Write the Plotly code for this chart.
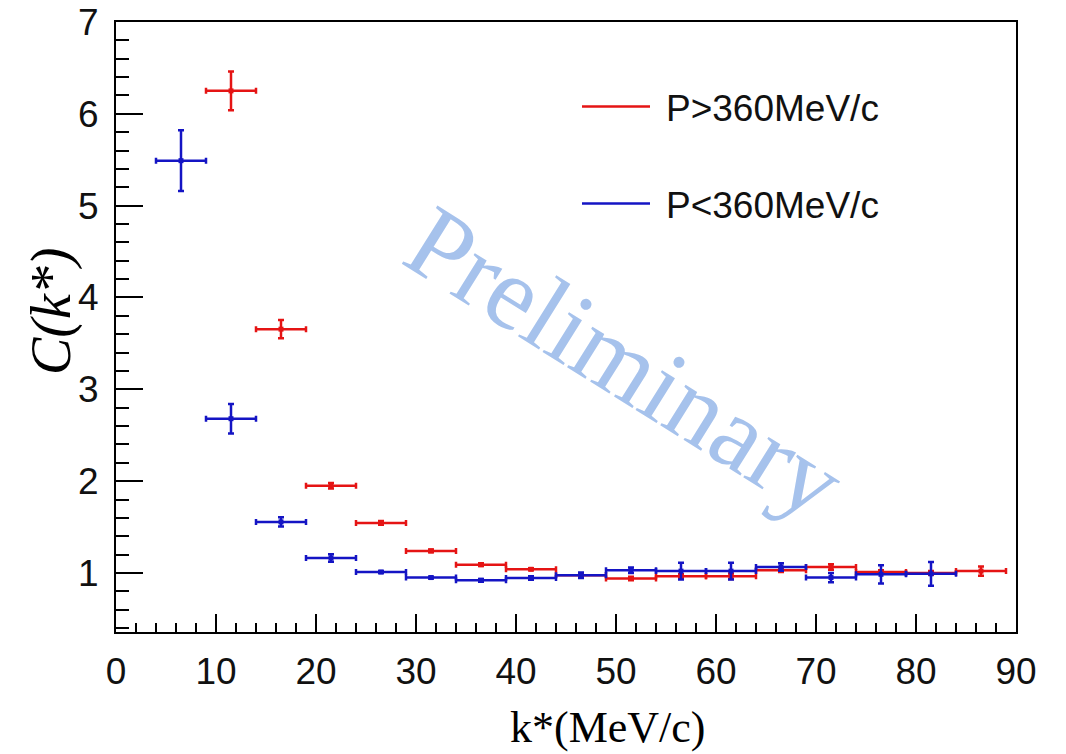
import plotly.graph_objects as go

# Bin centres (MeV/c); every bin is 5 MeV/c wide
k_high = [11.5, 16.5, 21.5, 26.5, 31.5, 36.5, 41.5, 46.5,
          51.5, 56.5, 61.5, 66.5, 71.5, 76.5, 81.5, 86.5]
c_high = [6.25, 3.655, 1.95, 1.545, 1.24, 1.09, 1.04, 0.975,
          0.94, 0.965, 0.965, 1.03, 1.065, 1.01, 1.0, 1.02]
err_high = [0.21, 0.10, 0.03, 0.02, 0.015, 0.015, 0.01, 0.02,
            0.02, 0.02, 0.03, 0.02, 0.03, 0.02, 0.02, 0.05]

k_low = [6.5, 11.5, 16.5, 21.5, 26.5, 31.5, 36.5, 41.5,
         46.5, 51.5, 56.5, 61.5, 66.5, 71.5, 76.5, 81.5]
c_low = [5.49, 2.68, 1.556, 1.163, 1.01, 0.95, 0.92, 0.945,
         0.975, 1.03, 1.02, 1.02, 1.065, 0.95, 0.985, 0.99]
err_low = [0.33, 0.16, 0.05, 0.04, 0.01, 0.01, 0.015, 0.02,
           0.03, 0.03, 0.09, 0.09, 0.04, 0.05, 0.10, 0.13]

bin_half_width = 2.5
series_labels = ["P>360MeV/c", "P<360MeV/c"]

RED = "#e51414"
BLUE = "#1414c4"

fig = go.Figure()


def add_series(k, c, err, color):
    fig.add_trace(go.Scatter(
        x=k, y=c, mode="markers",
        marker=dict(symbol="square", size=5, color=color),
        error_x=dict(type="constant", value=bin_half_width, color=color,
                     thickness=2.5, width=3),
        error_y=dict(type="data", array=err, color=color,
                     thickness=2.5, width=3),
        showlegend=False,
    ))


add_series(k_high, c_high, err_high, RED)
add_series(k_low, c_low, err_low, BLUE)

# Plot frame geometry (pixels) used to place legend / titles in paper units
L, R, T, B = 116, 50, 22, 122
W, H = 1066, 754
PW, PH = W - L - R, H - T - B


def px(x):
    return (x - L) / PW


def py(y):
    return (H - B - y) / PH


shapes = []
annotations = []

# Legend: line sample + label for each series
for label, color, ly in zip(series_labels, [RED, BLUE], [106.5, 203.5]):
    shapes.append(dict(type="line", xref="paper", yref="paper",
                       x0=px(582), x1=px(650), y0=py(ly), y1=py(ly),
                       line=dict(color=color, width=2.5)))
    annotations.append(dict(text=label, xref="paper", yref="paper",
                            x=px(664), y=py(ly + 2), xanchor="left",
                            yanchor="middle", showarrow=False,
                            font=dict(family="Liberation Sans, Arial",
                                      size=37, color="#111111")))

# Watermark
annotations.append(dict(text="Preliminary", xref="paper", yref="paper",
                        x=px(625), y=py(362), xanchor="center",
                        yanchor="middle", showarrow=False, textangle=32,
                        font=dict(family="Liberation Serif, Times New Roman",
                                  size=104, color="#a6c2ec")))

# Axis titles
annotations.append(dict(text="<i>C(k*)</i>", xref="paper", yref="paper",
                        x=px(51), y=py(311), xanchor="center",
                        yanchor="middle", showarrow=False, textangle=-90,
                        font=dict(family="Liberation Serif, Times New Roman",
                                  size=56, color="black")))
annotations.append(dict(text="k*(MeV/c)", xref="paper", yref="paper",
                        x=px(608), y=py(727), xanchor="center",
                        yanchor="middle", showarrow=False, borderpad=0,
                        font=dict(family="Liberation Serif, Times New Roman",
                                  size=44, color="black")))

tick_font = dict(family="Liberation Sans, Arial", size=37, color="#111111")

fig.update_layout(
    width=W, height=H,
    margin=dict(l=L, r=R, t=T, b=B, pad=0, autoexpand=False),
    paper_bgcolor="white", plot_bgcolor="white",
    shapes=shapes, annotations=annotations,
    xaxis=dict(range=[0, 90], tick0=0, dtick=10, showgrid=False,
               zeroline=False, showline=True, linecolor="black",
               linewidth=2, mirror=True, ticks="inside", ticklen=18,
               tickwidth=2, tickcolor="black", tickfont=tick_font,
               ticklabelstandoff=6, automargin=False,
               minor=dict(ticks="inside", dtick=2, ticklen=9,
                          tickwidth=2, tickcolor="black", showgrid=False)),
    yaxis=dict(range=[0.357, 7.0], tick0=0, dtick=1, showgrid=False,
               zeroline=False, showline=True, linecolor="black",
               linewidth=2, mirror=True, ticks="inside", ticklen=27,
               tickwidth=2, tickcolor="black", tickfont=tick_font,
               ticklabelstandoff=8, automargin=False,
               minor=dict(ticks="inside", dtick=0.2, ticklen=13,
                          tickwidth=2, tickcolor="black", showgrid=False)),
)

fig.write_html("out.html")
